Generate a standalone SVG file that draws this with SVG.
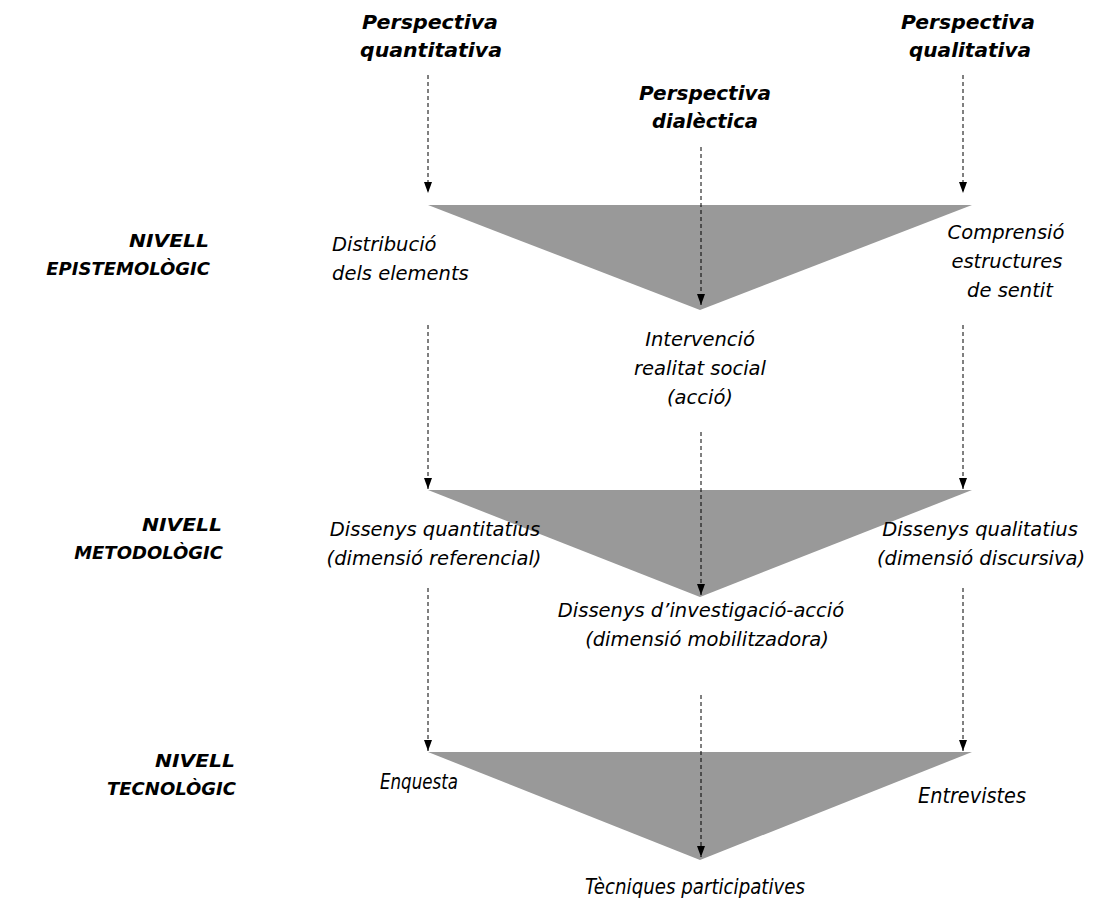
<svg xmlns="http://www.w3.org/2000/svg" width="1094" height="902" viewBox="0 0 1094 902">
<defs>
<style>
.tri{fill:#999999;stroke:none}
.conn{stroke:#000;stroke-width:1;stroke-dasharray:4 3;fill:none}
.head{font-family:"DejaVu Sans",Verdana,sans-serif;font-weight:bold;font-style:italic;font-size:20px;fill:#000;text-anchor:middle}
.lvl{font-family:"DejaVu Sans",Verdana,sans-serif;font-weight:bold;font-style:italic;font-size:18px;fill:#000;text-anchor:end}
.lab{font-family:"DejaVu Sans",Verdana,sans-serif;font-style:italic;font-size:19.5px;fill:#000}
.nar{font-family:"DejaVu Sans",Verdana,sans-serif;font-style:italic;font-size:21px;fill:#000}
.c{text-anchor:middle}
</style>
<marker id="arr" markerUnits="userSpaceOnUse" markerWidth="12" markerHeight="10" refX="11" refY="5" orient="auto" viewBox="0 0 12 10">
<path d="M0,1 L11,5 L0,9 Z" fill="#000"/>
</marker>
</defs>
<rect width="1094" height="902" fill="#fff"/>

<g id="tri-epistemologic"><polygon class="tri" points="428,205 972,205 700,310"/></g>
<g id="tri-metodologic"><polygon class="tri" points="428,490 972,490 700,597"/></g>
<g id="tri-tecnologic"><polygon class="tri" points="428,752 972,752 700,860"/></g>

<g id="connectors">
<line class="conn" x1="428" y1="75" x2="428" y2="193" marker-end="url(#arr)"/>
<line class="conn" x1="963" y1="75" x2="963" y2="193" marker-end="url(#arr)"/>
<line class="conn" x1="701" y1="147" x2="701" y2="305" marker-end="url(#arr)"/>
<line class="conn" x1="428" y1="325" x2="428" y2="489" marker-end="url(#arr)"/>
<line class="conn" x1="963" y1="325" x2="963" y2="489" marker-end="url(#arr)"/>
<line class="conn" x1="701" y1="432" x2="701" y2="595" marker-end="url(#arr)"/>
<line class="conn" x1="428" y1="588" x2="428" y2="751" marker-end="url(#arr)"/>
<line class="conn" x1="963" y1="588" x2="963" y2="751" marker-end="url(#arr)"/>
<line class="conn" x1="701" y1="695" x2="701" y2="857" marker-end="url(#arr)"/>
</g>

<g id="persp-quant"><text class="head" x="430" y="29" textLength="136" lengthAdjust="spacingAndGlyphs">Perspectiva</text><text class="head" x="431" y="57" textLength="142" lengthAdjust="spacingAndGlyphs">quantitativa</text></g>
<g id="persp-dial"><text class="head" x="705" y="100" textLength="132" lengthAdjust="spacingAndGlyphs">Perspectiva</text><text class="head" x="705" y="128" textLength="106" lengthAdjust="spacingAndGlyphs">dialèctica</text></g>
<g id="persp-qual"><text class="head" x="968" y="29" textLength="134" lengthAdjust="spacingAndGlyphs">Perspectiva</text><text class="head" x="970" y="57" textLength="122" lengthAdjust="spacingAndGlyphs">qualitativa</text></g>

<g id="nivell-epist"><text class="lvl" x="209" y="247" textLength="80" lengthAdjust="spacingAndGlyphs">NIVELL</text><text class="lvl" x="210" y="275">EPISTEMOLÒGIC</text></g>
<g id="nivell-metod"><text class="lvl" x="222" y="531" textLength="80" lengthAdjust="spacingAndGlyphs">NIVELL</text><text class="lvl" x="223" y="559">METODOLÒGIC</text></g>
<g id="nivell-tecno"><text class="lvl" x="235" y="767" textLength="80" lengthAdjust="spacingAndGlyphs">NIVELL</text><text class="lvl" x="236" y="795">TECNOLÒGIC</text></g>

<g id="distribucio"><text class="lab" x="332" y="251">Distribució</text><text class="lab" x="332" y="280">dels elements</text></g>
<g id="comprensio"><text class="lab c" x="1006" y="239">Comprensió</text><text class="lab c" x="1007" y="268">estructures</text><text class="lab c" x="1010" y="297">de sentit</text></g>
<g id="intervencio"><text class="lab c" x="700" y="346">Intervenció</text><text class="lab c" x="700" y="375">realitat social</text><text class="lab c" x="700" y="404">(acció)</text></g>

<g id="dis-quant"><text class="lab c" x="435" y="536">Dissenys quantitatius</text><text class="lab c" x="434" y="565">(dimensió referencial)</text></g>
<g id="dis-qual"><text class="lab c" x="980" y="536">Dissenys qualitatius</text><text class="lab c" x="981" y="565">(dimensió discursiva)</text></g>
<g id="dis-ia"><text class="lab c" x="701" y="617">Dissenys d’investigació-acció</text><text class="lab c" x="707" y="646">(dimensió mobilitzadora)</text></g>

<g id="enquesta"><text class="nar" x="380" y="789" textLength="78" lengthAdjust="spacingAndGlyphs">Enquesta</text></g>
<g id="entrevistes"><text class="nar" x="918" y="803" textLength="108" lengthAdjust="spacingAndGlyphs">Entrevistes</text></g>
<g id="tecniques"><text class="nar" x="585" y="894" textLength="220" lengthAdjust="spacingAndGlyphs">Tècniques participatives</text></g>
</svg>
